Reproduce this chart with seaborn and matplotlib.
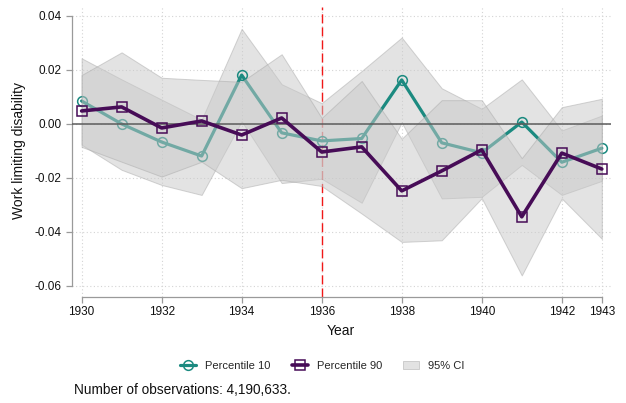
import matplotlib
matplotlib.use("Agg")
import matplotlib.pyplot as plt
from matplotlib.lines import Line2D
from matplotlib.patches import Patch
import seaborn as sns
import pandas as pd

# Estimates by birth year with 95% confidence intervals
years = [1930, 1931, 1932, 1933, 1934, 1935, 1936, 1937, 1938, 1939, 1940, 1941, 1942, 1943]
p10 = [0.0085, 0.0000, -0.0067, -0.0119, 0.0181, -0.0033, -0.0063,
       -0.0054, 0.0163, -0.0070, -0.0107, 0.0007, -0.0142, -0.0090]
p10_lo = [-0.0077, -0.0170, -0.0226, -0.0263, 0.0010, -0.0219, -0.0203,
          -0.0292, 0.0006, -0.0276, -0.0270, -0.0152, -0.0263, -0.0211]
p10_hi = [0.0243, 0.0165, 0.0090, 0.0016, 0.0352, 0.0147, 0.0077,
          0.0196, 0.0320, 0.0132, 0.0056, 0.0165, -0.0024, 0.0031]
p90 = [0.0048, 0.0063, -0.0015, 0.0011, -0.0041, 0.0022, -0.0104,
       -0.0085, -0.0248, -0.0174, -0.0096, -0.0344, -0.0108, -0.0167]
p90_lo = [-0.0085, -0.0140, -0.0195, -0.0140, -0.0238, -0.0207, -0.0230,
          -0.0332, -0.0437, -0.0431, -0.0275, -0.0561, -0.0276, -0.0425]
p90_hi = [0.0181, 0.0265, 0.0171, 0.0163, 0.0156, 0.0258, 0.0022,
          0.0159, -0.0055, 0.0088, 0.0088, -0.0127, 0.0062, 0.0093]

xticks = [1930, 1932, 1934, 1936, 1938, 1940, 1942, 1943]
yticks = [-0.06, -0.04, -0.02, 0.00, 0.02, 0.04]
reform_year = 1936
n_obs_note = "Number of observations: 4,190,633."

df = pd.DataFrame({"year": years, "p10": p10, "p10_lo": p10_lo, "p10_hi": p10_hi,
                   "p90": p90, "p90_lo": p90_lo, "p90_hi": p90_hi})

sns.set_theme(style="white")
plt.rcParams["font.family"] = ["Liberation Sans", "DejaVu Sans"]

TEAL = "#1b8a80"
PURPLE = "#470c57"
BAND = "#c9c9c9"
BAND_EDGE = "#a9a9a9"
AXIS_GRAY = "#9a9a9a"

fig = plt.figure(figsize=(6.26, 4.03), dpi=100)
ax = fig.add_axes([72 / 626, 106 / 403, 539 / 626, 290 / 403])

# background grid
for yv in yticks:
    ax.axhline(yv, color="#d4d4d4", lw=0.8, ls=(0, (1, 2.2)), zorder=0)
for xv in xticks:
    ax.axvline(xv, color="#d4d4d4", lw=0.8, ls=(0, (1, 2.2)), zorder=0)

# reform cohort marker
ax.axvline(reform_year, color="#f01818", lw=1.0, ls=(0, (6.5, 2.9)), zorder=1)

# P10: band then line; P90 band drawn over it
ax.fill_between(df["year"], df["p10_lo"], df["p10_hi"], color=BAND, alpha=0.5,
                edgecolor=BAND_EDGE, linewidth=0.7, zorder=2)
sns.lineplot(data=df, x="year", y="p10", ax=ax, color=TEAL, lw=2.3,
             marker="o", markersize=7, markerfacecolor="none",
             markeredgecolor=TEAL, markeredgewidth=1.1, zorder=3)
ax.fill_between(df["year"], df["p90_lo"], df["p90_hi"], color=BAND, alpha=0.5,
                edgecolor=BAND_EDGE, linewidth=0.7, zorder=4)
ax.axhline(0, color="#5c5c5c", lw=1.1, zorder=5)
sns.lineplot(data=df, x="year", y="p90", ax=ax, color=PURPLE, lw=2.6,
             marker="s", markersize=7.5, markerfacecolor="none",
             markeredgecolor=PURPLE, markeredgewidth=1.1, zorder=6)

ax.set_xlim(1929.76, 1943.23)
ax.set_ylim(-0.0641, 0.0433)
ax.set_xticks(xticks)
ax.set_xticklabels([str(x) for x in xticks], fontsize=8.5)
ax.set_yticks(yticks)
ax.set_yticklabels([f"{v:.2f}".replace("-0.00", "0.00") for v in yticks], fontsize=8.5)

for side in ("top", "right"):
    ax.spines[side].set_visible(False)
ax.spines["left"].set_bounds(-0.06, 0.04)
ax.spines["bottom"].set_bounds(1930, 1943)
for side in ("left", "bottom"):
    ax.spines[side].set_color(AXIS_GRAY)
    ax.spines[side].set_linewidth(0.9)
ax.tick_params(axis="both", direction="out", length=4, width=0.9, color=AXIS_GRAY,
               pad=3.5, labelcolor="#111111")
ax.tick_params(left=True, bottom=True)
ax.tick_params(axis="x", pad=2.5)

ax.set_xlabel("Year", fontsize=10, color="#111111")
ax.set_ylabel("Work limiting disability", fontsize=10, color="#111111")
ax.xaxis.set_label_coords(0.499, -0.092)
ax.yaxis.set_label_coords(-0.086, 0.504)

handles = [
    Line2D([0], [0], color=TEAL, lw=2.3, marker="o", markersize=7,
           markerfacecolor="none", markeredgecolor=TEAL, markeredgewidth=1.1),
    Line2D([0], [0], color=PURPLE, lw=2.6, marker="s", markersize=7.5,
           markerfacecolor="none", markeredgecolor=PURPLE, markeredgewidth=1.1),
    Patch(facecolor="#e2e2e2", edgecolor="#cccccc", linewidth=0.7),
]
fig.legend(handles, ["Percentile 10", "Percentile 90", "95% CI"],
           loc="center", bbox_to_anchor=(0.515, 0.092), ncol=3, frameon=False,
           fontsize=8, handlelength=1.45, handletextpad=0.8, columnspacing=1.9)

fig.text(74 / 626, 1 - 390 / 403, n_obs_note, fontsize=9.8, color="#111111",
         va="center", ha="left")

fig.savefig("out.png", dpi=100)
